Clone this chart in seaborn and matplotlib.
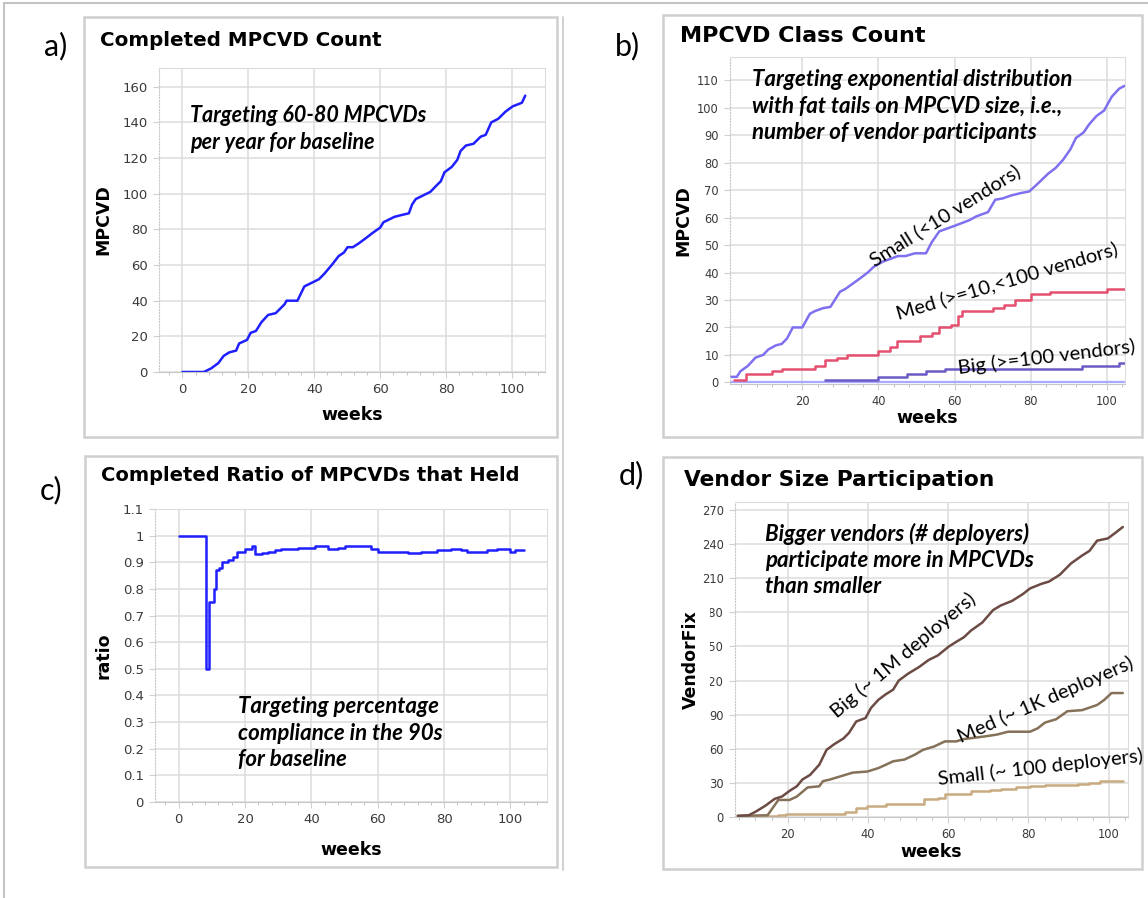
import matplotlib
matplotlib.use("Agg")
import matplotlib.pyplot as plt
from matplotlib.patches import Rectangle
from matplotlib.ticker import MultipleLocator, FuncFormatter
import seaborn as sns

# a) completed MPCVD count
a_weeks = [0, 6.5, 8.7, 10.9, 12.5, 14.2, 16.3, 17.2, 19.6, 20.7, 22.3, 24, 26, 28.3, 31, 31.6, 34.9, 37, 39.2,
           41.4, 43, 45.3, 47.4, 49, 50.1, 51.7, 53.4, 55.6, 57.7, 60, 61, 63.2, 64.3, 66.4, 68.7, 69.7, 70.8, 73,
           75.2, 77.3, 78.4, 79.5, 81.7, 83.4, 84.4, 86, 88.3, 90.5, 92, 93.7, 95.8, 98, 100.2, 103, 104]
a_count = [0, 0, 2, 5, 9, 11, 12, 16, 18, 22, 23, 28, 32, 33, 38, 40, 40, 48, 50, 52, 55, 60, 65, 67, 70, 70,
           72, 75, 78, 81, 84, 86, 87, 88, 89, 94, 97, 99, 101, 105, 107, 112, 115, 119, 124, 127, 128, 132, 133,
           140, 142, 146, 149, 151, 155]

# b) MPCVD class count
b_small_weeks = [1.3, 2.8, 3.7, 5.7, 7.7, 9.7, 11.1, 13.1, 14.6, 16, 17.5, 20, 22, 23.4, 25.4, 27.4, 29.9, 31.3,
                 33.3, 35.3, 37.2, 38.7, 41.2, 43.2, 45.1, 47.1, 49.6, 52.5, 54, 56, 58, 60, 61.9, 63.8, 65.8, 68.8,
                 70.7, 72.7, 74.7, 77.6, 79.6, 81.6, 84.6, 86.5, 88.5, 90.5, 91.9, 93.9, 95.4, 97.3, 99.3, 101.3,
                 103.3, 104.7]
b_small = [2, 2, 4, 6, 9, 10, 12, 13.5, 14, 16, 20, 20, 25, 26, 27, 27.5, 33, 34, 36, 38, 40, 42, 44, 45, 46, 46,
           47, 47, 51, 55, 56, 57, 58, 59, 60.5, 62, 66.5, 67, 68, 69, 69.5, 72, 76, 78, 81, 85, 89, 91, 94, 97, 99,
           104, 107, 108]
b_med_weeks = [2, 5.2, 12, 14.6, 23.4, 26, 29, 31.8, 40, 43, 45, 51, 54, 56, 59, 61, 62, 70, 73, 76, 80, 85, 100, 105]
b_med = [1, 3, 4, 5, 6, 8, 9, 10, 11.5, 13, 15, 17, 18, 20, 21, 24, 26, 27, 28, 30, 32, 33, 34, 34]
b_big_weeks = [26, 40, 47.6, 52.5, 57.4, 93.4, 103.3, 105]
b_big = [1, 2, 3, 4, 5, 6, 7, 7]
b_zero_weeks = [1, 105]
b_zero = [0, 0]

# c) completed ratio of MPCVDs that held
c_weeks = [0, 8.3, 9.3, 10.8, 11.4, 12.2, 13, 15, 16.5, 17.5, 20, 22, 23, 25, 27, 29, 31, 36, 41, 45, 48, 50, 58,
           60, 69, 73, 78, 82, 85, 87, 93, 96, 100, 101.5, 104]
c_ratio = [1.0, 0.5, 0.75, 0.8, 0.87, 0.88, 0.9, 0.91, 0.92, 0.94, 0.95, 0.96, 0.93, 0.935, 0.94, 0.945, 0.95,
           0.955, 0.96, 0.95, 0.955, 0.96, 0.95, 0.94, 0.935, 0.94, 0.945, 0.95, 0.945, 0.94, 0.945, 0.95, 0.94,
           0.945, 0.945]

# d) vendor size participation
d_big_weeks = [7.6, 10.3, 12.2, 14.5, 16.8, 18.6, 20.5, 22.3, 23.7, 25.6, 27.9, 29.7, 31.6, 33.9, 35.3, 37.1, 39.4,
               40.8, 42.6, 44.5, 46.3, 47.7, 50, 52.8, 55.1, 57.4, 60.2, 62, 63.9, 65.7, 68.5, 71.2, 73.1, 75.9,
               78.6, 80.4, 83.2, 85.1, 87.8, 90.6, 93.4, 95.2, 97.1, 99.8, 101.7, 103.5]
d_big = [1, 1.5, 5, 10, 16, 18, 23, 27, 33, 37, 46, 59, 64, 69, 74, 84, 87, 96, 103, 108, 112, 120, 126, 132, 138,
         142, 150, 154, 158, 164, 171, 182, 186, 190, 196, 201, 205, 207, 213, 223, 230, 234, 243, 245, 250, 255]
d_med_weeks = [7.6, 15, 16.3, 17.7, 20.5, 22.3, 25, 27.9, 28.8, 30.6, 33.4, 36.2, 39.9, 42.6, 44.5, 46.3, 49.1, 51.8,
               53.7, 56.5, 59.2, 62, 63.9, 69.4, 72.2, 74.9, 80.4, 82.3, 84.1, 86.9, 89.7, 93.4, 97.1, 98.9, 100.7,
               103.5]
d_med = [1, 1.5, 8, 15, 15, 18, 26, 27, 31.5, 33, 36, 39, 40, 43, 46, 49, 50.5, 55, 59, 62, 66.5, 66.5, 68.5, 71,
         72.5, 75, 75, 78, 83, 86, 93, 94, 98.5, 103, 109, 109]
d_small_weeks = [7.6, 17.7, 19.6, 34.3, 37.1, 39.9, 44.5, 54.1, 57.4, 59.2, 65.7, 70.3, 73.1, 76.8, 80.4, 84.1, 88.7,
                 92.4, 95.1, 97.9, 103.5]
d_small = [1, 1.5, 3, 4, 8, 10, 11, 15.5, 17, 20, 23, 24, 25, 26, 27, 28, 28.5, 29, 30, 31.5, 31.5]

W, H = 1148, 898
LABEL_FONT = ["Lato", "DejaVu Sans"]
BOLD_FONT = ["DejaVu Sans"]

sns.set_style("white")
plt.rcParams["font.family"] = ["DejaVu Sans"]
plt.rcParams["text.color"] = "black"
plt.rcParams["axes.labelcolor"] = "black"

fig = plt.figure(figsize=(W / 100, H / 100), dpi=100)


def box(l, t, r, b):
    return [l / W, 1 - b / H, (r - l) / W, (b - t) / H]


def fxy(x, y):
    return x / W, 1 - y / H


# panel frames and outer border
for l, t, r, b in [(84, 17, 557, 437), (663, 15, 1142, 437), (85, 456, 557, 867), (663, 457, 1142, 869)]:
    fig.add_artist(Rectangle(fxy(l, b), (r - l) / W, (b - t) / H, transform=fig.transFigure,
                             fill=False, edgecolor="#cfcfcf", lw=1.8))
fig.add_artist(plt.Line2D([4 / W, 4 / W], [0, 1 - 3 / H], transform=fig.transFigure, color="#c4c4c4", lw=1.5))
fig.add_artist(plt.Line2D([4 / W, 1], [1 - 3 / H, 1 - 3 / H], transform=fig.transFigure, color="#c4c4c4", lw=1.5))
fig.add_artist(plt.Line2D([563 / W, 563 / W], [1 - 870 / H, 1 - 17 / H], transform=fig.transFigure,
                          color="#c8c8c8", lw=1.2))


def style(ax, xlim, ylim, xmaj, ymaj, ylab, tsize, xlab_y, ylab_x):
    ax.set_xlim(*xlim)
    ax.set_ylim(*ylim)
    ax.xaxis.set_major_locator(MultipleLocator(xmaj))
    ax.xaxis.set_minor_locator(MultipleLocator(4))
    ax.yaxis.set_major_locator(MultipleLocator(ymaj))
    ax.yaxis.set_major_formatter(FuncFormatter(lambda v, p: f"{round(v, 3):g}"))
    ax.grid(True, which="major", color="#dcdcdc", lw=1.1)
    ax.set_axisbelow(True)
    for s in ["top", "right"]:
        ax.spines[s].set_color("#dcdcdc")
    ax.spines["left"].set_color("#c8c8c8")
    ax.spines["left"].set_linestyle(":")
    ax.spines["bottom"].set_color("#c8c8c8")
    ax.tick_params(axis="both", which="major", length=4, color="#d0d0d0", labelsize=tsize,
                   labelcolor="#3a3a3a", pad=4, bottom=True, left=True)
    ax.tick_params(axis="x", which="minor", length=2, color="#b8b8b8", bottom=True)
    ax.set_xlabel("weeks", fontsize=12.5, fontweight="bold", family=BOLD_FONT)
    ax.xaxis.set_label_coords(0.5, xlab_y)
    ax.xaxis.label.set_verticalalignment("center")
    ax.set_ylabel(ylab, fontsize=12.5, fontweight="bold", family=BOLD_FONT,
                  bbox=dict(facecolor="white", edgecolor="none", pad=7))
    ax.yaxis.set_label_coords(ylab_x, 0.5)
    ax.yaxis.label.set_verticalalignment("center")


def panel_text(tag, tx, ty, title, ttx, tty, tsize):
    x, y = fxy(tx, ty)
    fig.text(x, y, tag, fontsize=22, family=LABEL_FONT, va="center", ha="left")
    x, y = fxy(ttx, tty)
    fig.text(x, y, title, fontsize=tsize, fontweight="bold", family=BOLD_FONT, va="center", ha="left")


def note(text, x, y, size=16):
    fx, fy = fxy(x, y)
    fig.text(fx, fy, text, fontsize=size, fontstyle="italic", fontweight="bold", family=LABEL_FONT,
             va="center", ha="left", linespacing=1.32)


def series_label(text, x, y, rot):
    fx, fy = fxy(x, y)
    fig.text(fx, fy, text, fontsize=14.5, family=LABEL_FONT, rotation=rot, rotation_mode="anchor",
             ha="center", va="center")


# a)
ax_a = fig.add_axes(box(159, 68, 545, 372))
sns.lineplot(x=a_weeks, y=a_count, ax=ax_a, color="#1f1fff", lw=1.8)
style(ax_a, (-7.1, 110), (0, 170.5), 20, 20, "MPCVD", 9.5, -0.141, -0.145)
panel_text("a)", 44, 46, "Completed MPCVD Count", 100, 41, 14.3)
note("Targeting 60-80 MPCVDs\nper year for baseline", 190, 129, 15.5)

# b)
ax_b = fig.add_axes(box(730, 57, 1125, 384))
sns.lineplot(x=b_zero_weeks, y=b_zero, ax=ax_b, color="#a9a9ff", lw=1.6, drawstyle="steps-post")
sns.lineplot(x=b_small_weeks, y=b_small, ax=ax_b, color="#7e70ee", lw=1.8)
sns.lineplot(x=b_med_weeks, y=b_med, ax=ax_b, color="#e4506f", lw=1.8, drawstyle="steps-post")
sns.lineplot(x=b_big_weeks, y=b_big, ax=ax_b, color="#6a5cc4", lw=1.8, drawstyle="steps-post")
style(ax_b, (1, 104.8), (-0.6, 118.5), 20, 10, "MPCVD", 8.3, -0.104, -0.117)
panel_text("b)", 615, 46, "MPCVD Class Count", 680, 36, 16)
note("Targeting exponential distribution\nwith fat tails on MPCVD size, i.e.,\nnumber of vendor participants", 752, 106)
series_label("Small (<10 vendors)", 945, 216, 32)
series_label("Med (>=10,<100 vendors)", 1007, 281, 16.5)
series_label("Big (>=100 vendors)", 1046, 357, 7)

# c)
ax_c = fig.add_axes(box(155, 509, 547, 802))
sns.lineplot(x=c_weeks, y=c_ratio, ax=ax_c, color="#1f1fff", lw=1.8, drawstyle="steps-post")
style(ax_c, (-7.1, 111), (0, 1.1), 20, 0.1, "ratio", 9.5, -0.164, -0.131)
panel_text("c)", 40, 490, "Completed Ratio of MPCVDs that Held", 101, 475, 14)
note("Targeting percentage\ncompliance in the 90s\nfor baseline", 238, 733)

# d)
ax_d = fig.add_axes(box(735, 502, 1128, 817))
sns.lineplot(x=d_small_weeks, y=d_small, ax=ax_d, color="#c8ab80", lw=1.8, drawstyle="steps-post")
sns.lineplot(x=d_med_weeks, y=d_med, ax=ax_d, color="#857058", lw=1.8)
sns.lineplot(x=d_big_weeks, y=d_big, ax=ax_d, color="#6b4b44", lw=1.8)
style(ax_d, (6.9, 104.8), (0, 277), 20, 30, "VendorFix", 8.3, -0.111, -0.112)
panel_text("d)", 619, 475, "Vendor Size Participation", 684, 480, 15.7)
note("Bigger vendors (# deployers)\nparticipate more in MPCVDs\nthan smaller", 765, 560)
series_label("Big (~ 1M deployers)", 903, 655, 40)
series_label("Med (~ 1K deployers)", 1045, 700, 23.5)
series_label("Small (~ 100 deployers)", 1040, 767, 6.5)

fig.savefig("out.png", dpi=100, facecolor="white")
